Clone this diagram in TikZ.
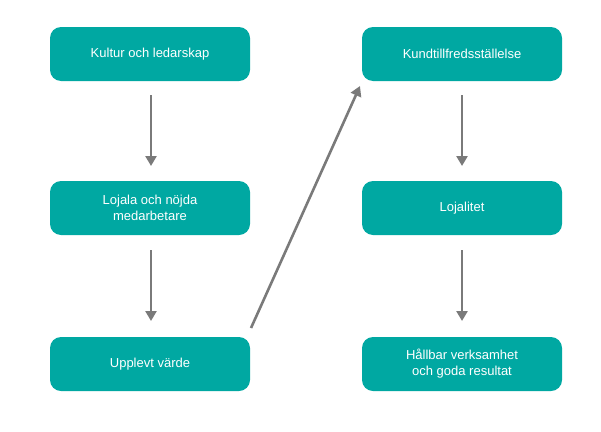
\documentclass[tikz,border=0pt]{standalone}
\usepackage{fontspec}
\setmainfont{Liberation Sans}
\usetikzlibrary{arrows.meta}
\definecolor{teal1}{HTML}{00A8A2}
\definecolor{arr}{HTML}{7A7A7A}
\begin{document}
\begin{tikzpicture}[x=1pt,y=-1pt,
  box/.style={fill=teal1,rounded corners=11pt,minimum width=200pt,minimum height=54pt,text=white,font=\fontsize{13}{16}\selectfont,align=center},
  conn/.style={draw=arr,line width=2.6pt,-{Triangle[length=10pt,width=11pt]}}]
\useasboundingbox (0,0) rectangle (601,431);
\node[box] (a) at (150,54) {Kultur och ledarskap};
\node[box] (b) at (150,208) {Lojala och nöjda\\medarbetare};
\node[box] (c) at (150,364) {Upplevt värde};
\node[box] (d) at (462,54) {Kundtillfredsställelse};
\node[box] (e) at (462,208) {Lojalitet};
\node[box] (f) at (462,364) {Hållbar verksamhet\\och goda resultat};
\draw[conn] (151,95) -- (151,166);
\draw[conn] (151,250) -- (151,321);
\draw[conn] (462,95) -- (462,166);
\draw[conn] (462,250) -- (462,321);
\draw[conn] (251,328) -- (360,86);
\coordinate (x) at (0,0);
\end{tikzpicture}
\end{document}
